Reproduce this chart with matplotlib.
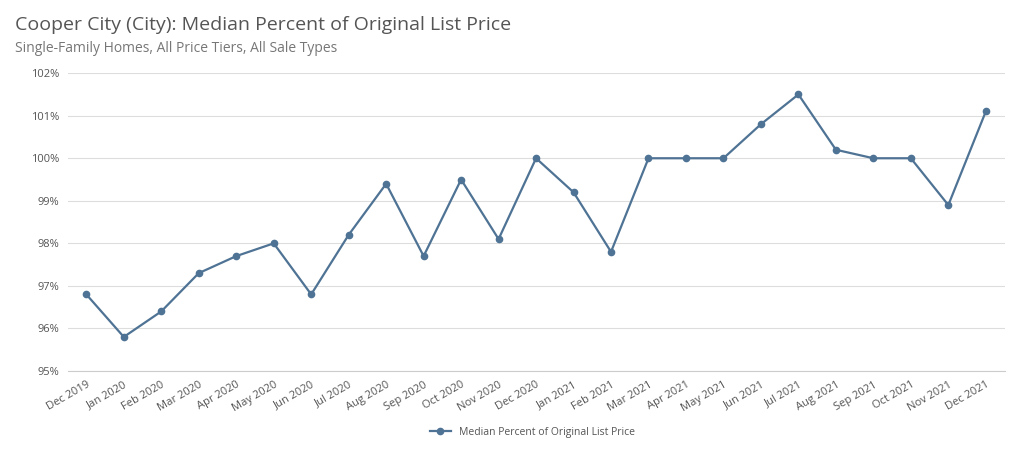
import matplotlib
matplotlib.use("Agg")
import matplotlib.pyplot as plt
from matplotlib.ticker import FuncFormatter

months = ["Dec 2019","Jan 2020","Feb 2020","Mar 2020","Apr 2020","May 2020","Jun 2020","Jul 2020",
          "Aug 2020","Sep 2020","Oct 2020","Nov 2020","Dec 2020","Jan 2021","Feb 2021","Mar 2021",
          "Apr 2021","May 2021","Jun 2021","Jul 2021","Aug 2021","Sep 2021","Oct 2021","Nov 2021","Dec 2021"]
values = [96.8,95.8,96.4,97.3,97.7,98.0,96.8,98.2,99.4,97.7,99.5,98.1,100.0,99.2,97.8,100.0,
          100.0,100.0,100.8,101.5,100.2,100.0,100.0,98.9,101.1]
series_name = "Median Percent of Original List Price"

plt.rcParams["font.family"] = "Open Sans"
fig = plt.figure(figsize=(10.24, 4.69), dpi=100)
ax = fig.add_axes([0.066, 0.209, 0.915, 0.635])
color = "#4f7394"
x = range(len(months))
ax.plot(x, values, color=color, lw=1.6, marker="o", ms=4.5, label=series_name)
ax.set_ylim(95, 102)
ax.set_xlim(-0.5, len(months) - 0.5)
ax.set_yticks(range(95, 103))
ax.yaxis.set_major_formatter(FuncFormatter(lambda v, p: f"{int(v)}%"))
ax.set_xticks(list(x))
ax.set_xticklabels(months, rotation=30, ha="right", rotation_mode="anchor")
ax.tick_params(axis="both", length=0, labelsize=8, colors="#555555", pad=6)
ax.grid(axis="y", color="#dddddd", lw=0.8)
for s in ["top", "right", "left"]:
    ax.spines[s].set_visible(False)
ax.spines["bottom"].set_color("#cccccc")
fig.text(0.015, 0.935, "Cooper City (City): Median Percent of Original List Price", fontsize=14, color="#555555")
fig.text(0.015, 0.89, "Single-Family Homes, All Price Tiers, All Sale Types", fontsize=10, color="#777777")
fig.legend(loc="center", bbox_to_anchor=(0.52, 0.078), frameon=False, fontsize=7.5,
           labelcolor="#555555")
fig.savefig("out.png", dpi=100, facecolor="white")
